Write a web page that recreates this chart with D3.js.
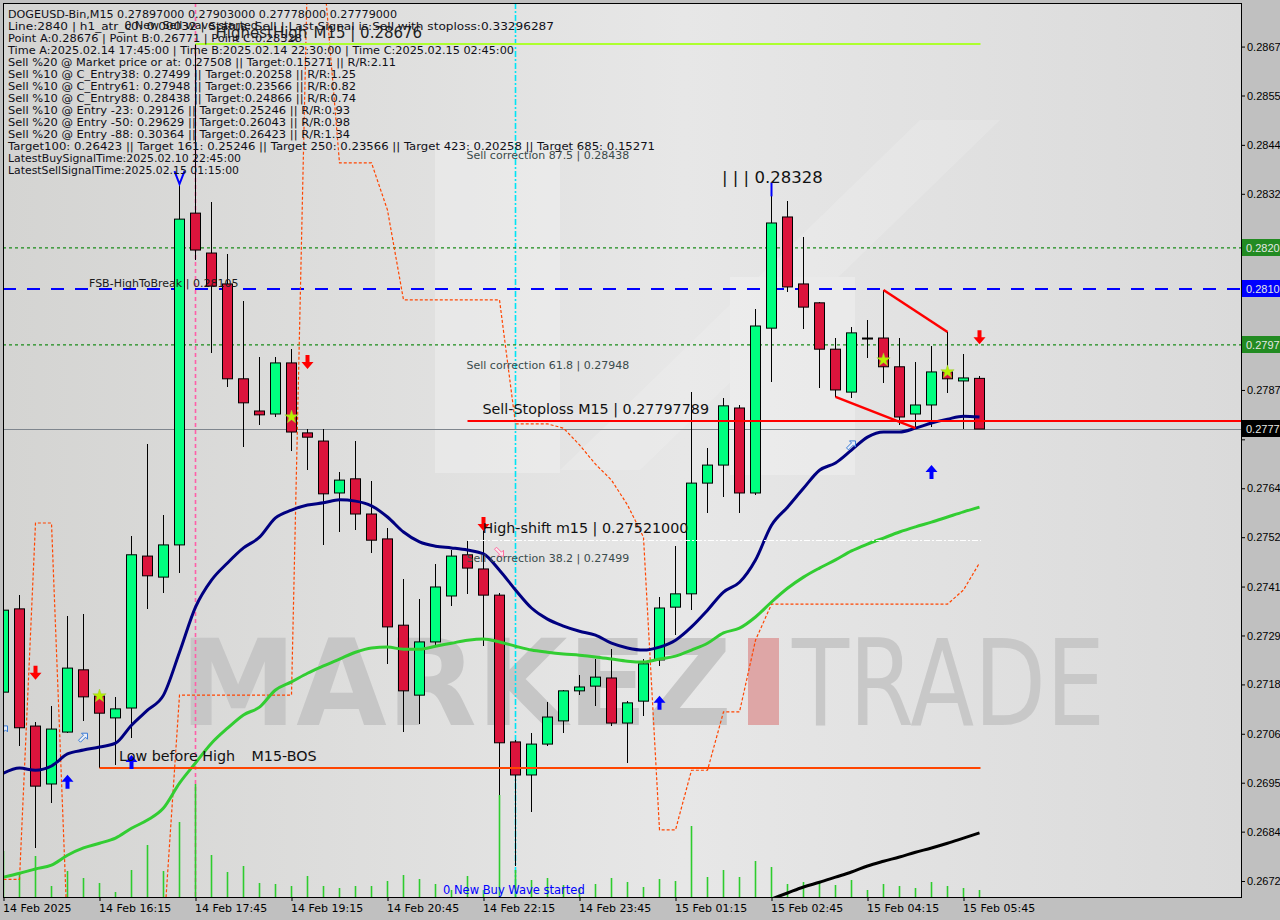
<!DOCTYPE html>
<html><head><meta charset="utf-8">
<script src="https://cdn.jsdelivr.net/npm/d3@7"></script>
<style>
html,body{margin:0;padding:0;background:#c0c0c0;overflow:hidden}
svg{display:block}
</style></head><body>
<svg id="c" width="1280" height="920"></svg>
<script>
// ---------------- DATA ----------------
const timeLabels = ["14 Feb 2025","14 Feb 16:15","14 Feb 17:45","14 Feb 19:15","14 Feb 20:45","14 Feb 22:15","14 Feb 23:45","15 Feb 01:15","15 Feb 02:45","15 Feb 04:15","15 Feb 05:45"];
const timeLabelBars = [0,6,12,18,24,30,36,42,48,54,60];

const opens  = [0.27166,0.27360,0.27087,0.26952,0.27073,0.27218,0.27157,0.27106,0.27129,0.27483,0.27434,0.27509,0.28282,0.28189,0.28117,0.27896,0.27821,0.27814,0.27933,0.27770,0.27751,0.27630,0.27663,0.27581,0.27523,0.27322,0.27159,0.27283,0.27390,0.27486,0.27453,0.27392,0.27050,0.26973,0.27045,0.27099,0.27169,0.27180,0.27199,0.27094,0.27145,0.27241,0.27364,0.27395,0.27653,0.27695,0.27828,0.27630,0.28014,0.28273,0.28117,0.28073,0.27965,0.27865,0.27991,0.27991,0.27924,0.27814,0.27835,0.27912,0.27891,0.27897];
const highs  = [0.27381,0.27392,0.27096,0.27134,0.27343,0.27348,0.27164,0.27155,0.27530,0.27744,0.27579,0.28352,0.28676,0.28308,0.28187,0.28077,0.27947,0.27947,0.27965,0.27779,0.27779,0.27679,0.27751,0.27658,0.27548,0.27430,0.27383,0.27465,0.27497,0.27518,0.27553,0.27397,0.27055,0.27071,0.27143,0.27171,0.27206,0.27243,0.27267,0.27145,0.27243,0.27388,0.27507,0.27865,0.27735,0.27851,0.27835,0.28059,0.28328,0.28310,0.28226,0.28075,0.27991,0.28017,0.28033,0.28103,0.27991,0.27935,0.27972,0.28005,0.27954,0.27903];
const lows   = [0.27148,0.27041,0.26803,0.26908,0.27071,0.27099,0.26989,0.26996,0.27059,0.27360,0.27397,0.27444,0.28173,0.27956,0.27877,0.27737,0.27788,0.27807,0.27728,0.27684,0.27509,0.27539,0.27544,0.27490,0.27232,0.27073,0.27092,0.27274,0.27367,0.27395,0.27274,0.26926,0.26760,0.26887,0.27041,0.27071,0.27159,0.27134,0.27087,0.27001,0.27110,0.27227,0.27299,0.27357,0.27583,0.27621,0.27583,0.27625,0.27889,0.28098,0.28012,0.27875,0.27854,0.27851,0.27945,0.27886,0.27788,0.27781,0.27784,0.27863,0.27779,0.27778];
const closes = [0.27357,0.27083,0.26947,0.27080,0.27222,0.27155,0.27117,0.27127,0.27486,0.27437,0.27509,0.28268,0.28196,0.28112,0.27896,0.27840,0.27812,0.27933,0.27772,0.27760,0.27628,0.27660,0.27581,0.27520,0.27318,0.27169,0.27283,0.27411,0.27483,0.27455,0.27392,0.27048,0.26973,0.27045,0.27108,0.27169,0.27178,0.27201,0.27094,0.27141,0.27232,0.27362,0.27395,0.27653,0.27695,0.27833,0.27630,0.28019,0.28259,0.28110,0.28063,0.27965,0.27870,0.28003,0.27990,0.27924,0.27807,0.27835,0.27912,0.27896,0.27898,0.27779];
const volumes = [460,250,410,110,260,190,140,50,270,520,260,750,1130,420,250,310,140,130,110,210,110,90,110,110,160,220,180,130,70,210,70,1020,270,170,190,120,90,130,190,150,100,180,160,710,200,270,200,360,300,130,150,140,120,170,70,130,110,90,150,110,90,70];

const maFast = [0.26977,0.26989,0.26984,0.26994,0.27022,0.27031,0.27038,0.27047,0.27089,0.27124,0.27159,0.27259,0.27364,0.27427,0.27467,0.27502,0.27527,0.27572,0.27590,0.27602,0.27607,0.27614,0.27611,0.27600,0.27574,0.27539,0.27516,0.27506,0.27502,0.27497,0.27488,0.27450,0.27404,0.27362,0.27336,0.27320,0.27308,0.27299,0.27280,0.27269,0.27264,0.27271,0.27287,0.27318,0.27357,0.27399,0.27422,0.27474,0.27555,0.27597,0.27641,0.27683,0.27700,0.27730,0.27760,0.27772,0.27772,0.27781,0.27793,0.27802,0.27809,0.27807];
const maSlow = [0.26735,0.26744,0.26754,0.26763,0.26786,0.26803,0.26814,0.26826,0.26849,0.26868,0.26896,0.26954,0.27001,0.27047,0.27082,0.27113,0.27131,0.27171,0.27190,0.27210,0.27227,0.27243,0.27259,0.27269,0.27271,0.27266,0.27266,0.27273,0.27280,0.27287,0.27290,0.27283,0.27273,0.27264,0.27259,0.27255,0.27252,0.27248,0.27243,0.27238,0.27236,0.27243,0.27250,0.27264,0.27280,0.27304,0.27315,0.27341,0.27376,0.27408,0.27434,0.27455,0.27474,0.27495,0.27511,0.27525,0.27539,0.27551,0.27562,0.27574,0.27586,0.27597];
const maLong = [null,null,null,null,null,null,null,null,null,null,null,null,null,null,null,null,null,null,null,null,null,null,null,null,null,null,null,null,null,null,null,null,null,null,null,null,null,null,null,null,null,null,null,null,null,null,0.26655,0.26670,0.26684,0.26698,0.26712,0.26723,0.26735,0.26747,0.26761,0.26772,0.26782,0.26793,0.26803,0.26814,0.26826,0.26838];
const envelope = [0.26730,0.26730,0.27560,0.27560,0.26600,0.26600,0.26600,0.26600,0.26600,0.26600,0.26600,0.27159,0.27159,0.27159,0.27159,0.27159,0.27159,0.27159,0.27159,0.28850,0.28850,0.28399,0.28399,0.28399,0.28289,0.28080,0.28080,0.28080,0.28080,0.28080,0.28080,0.28080,0.27791,0.27791,0.27791,0.27781,0.27742,0.27697,0.27660,0.27602,0.27527,0.26845,0.26845,0.26984,0.26984,0.27120,0.27120,0.27287,0.27371,0.27371,0.27371,0.27371,0.27371,0.27371,0.27371,0.27371,0.27371,0.27371,0.27371,0.27371,0.27404,0.27467];

const priceTicks = [0.28670,0.28556,0.28441,0.28327,0.28213,0.28098,0.27984,0.27870,0.27755,0.27641,0.27527,0.27412,0.27298,0.27184,0.27069,0.26955,0.26841,0.26726];

const highestHigh = 0.28676;
const pointC = 0.28328;
const fsbHigh = 0.28105;
const fibUpper = 0.28201;
const fibLower = 0.27975;
const stopLoss = 0.27797789;
const lastPrice = 0.27779;
const highShift = 0.27521;
const lowBeforeHigh = 0.26989;
const corrNames = ["87.5","61.8","38.2"];
const corrLevels = [0.28438,0.27948,0.27499];
const barA = 12, barB = 32, barC = 48;

const sellArrows = [{i:2,p:0.27211},{i:19,p:0.27935},{i:30,p:0.27558},{i:61,p:0.27993}];
const buyArrows  = [{i:4,p:0.26957},{i:8,p:0.27003},{i:41,p:0.27141},{i:58,p:0.27679}];
const hollowArrows = [{i:0,p:0.27078},{i:5,p:0.27061},{i:53,p:0.27742}];
const pinkArrows = [{i:31,p:0.27492}];
const stars = [{i:6,p:0.27157},{i:18,p:0.27807},{i:55,p:0.27940},{i:59,p:0.27912}];
const triLines = [[52,"low",57,"low"],[55,"high",59,"high"]];

const infoLines = [
 "DOGEUSD-Bin,M15  0.27897000 0.27903000 0.27778000 0.27779000",
 "Line:2840 | h1_atr_c0: 0.00032 | Status: Sell | Last Signal is:Sell with stoploss:0.33296287",
 "Point A:0.28676 | Point B:0.26771 | Point C:0.28328",
 "Time A:2025.02.14 17:45:00 | Time B:2025.02.14 22:30:00 | Time C:2025.02.15 02:45:00",
 "Sell %20 @ Market price or at: 0.27508 || Target:0.15271 || R/R:2.11",
 "Sell %10 @ C_Entry38: 0.27499 || Target:0.20258 || R/R:1.25",
 "Sell %10 @ C_Entry61: 0.27948 || Target:0.23566 || R/R:0.82",
 "Sell %10 @ C_Entry88: 0.28438 || Target:0.24866 || R/R:0.74",
 "Sell %10 @ Entry -23: 0.29126 || Target:0.25246 || R/R:0.93",
 "Sell %20 @ Entry -50: 0.29629 || Target:0.26043 || R/R:0.98",
 "Sell %20 @ Entry -88: 0.30364 || Target:0.26423 || R/R:1.34",
 "Target100: 0.26423 || Target 161: 0.25246 || Target 250: 0.23566 || Target 423: 0.20258 || Target 685: 0.15271",
 "LatestBuySignalTime:2025.02.10 22:45:00",
 "LatestSellSignalTime:2025.02.15 01:15:00"
];
// rendered widths of the info lines (layout only)
const infoWidths = [389,546,294,506,388,348,348,348,342,342,342,647,233,231];

// ---------------- CHART ----------------
const W = 1280, H = 920;
const L = 3, T = 3, R = 1241, B = 897;
const FONT = "DejaVu Sans";
const AXFONT = "Liberation Sans";
const svg = d3.select("#c");
const x = d3.scaleLinear().domain([0, opens.length - 1]).range([3.5, 979.5]);
const y = d3.scaleLinear().domain([0.28676, 0.26733]).range([44, 878]);
const yv = d3.scaleLinear().domain([0, 2000]).range([B, B - 200]);
const crisp = v => Math.round(v) + 0.5;

const defs = svg.append("defs");
const gr = defs.append("linearGradient").attr("id", "bg").attr("x1", 0).attr("x2", 1).attr("y1", 0).attr("y2", 0);
gr.append("stop").attr("offset", "0%").attr("stop-color", "#d4d4d2");
gr.append("stop").attr("offset", "55%").attr("stop-color", "#e7e7e7");
gr.append("stop").attr("offset", "100%").attr("stop-color", "#dadada");
defs.append("clipPath").attr("id", "plot").append("rect").attr("x", L).attr("y", T).attr("width", R - L).attr("height", B - T);

svg.append("rect").attr("width", W).attr("height", H).attr("fill", "#c0c0c0");
svg.append("rect").attr("x", L).attr("y", T).attr("width", R - L).attr("height", B - T).attr("fill", "url(#bg)");

const g = svg.append("g").attr("clip-path", "url(#plot)");

// watermark logo (decoration)
const logo = g.append("g").attr("fill", "#ffffff").attr("opacity", 0.25);
logo.append("rect").attr("x", 435).attr("y", 140).attr("width", 125).attr("height", 333);
logo.append("rect").attr("x", 730).attr("y", 277).attr("width", 125).attr("height", 198);
logo.append("path").attr("d", "M560,470 L640,470 L1000,120 L920,120 Z").attr("opacity", 0.6);
const wm = g.append("g").attr("font-family", FONT);
wm.append("text").attr("x", 180).attr("y", 725).attr("font-size", 119).attr("font-weight", "bold")
  .attr("fill", "#c6c6c6").attr("textLength", 552).attr("lengthAdjust", "spacingAndGlyphs").text("MARKEZ");
wm.append("rect").attr("x", 748).attr("y", 638).attr("width", 31).attr("height", 87).attr("fill", "#dea6a6");
wm.append("text").attr("x", 792).attr("y", 725).attr("font-size", 119)
  .attr("fill", "#c8c8c8").attr("textLength", 313).attr("lengthAdjust", "spacingAndGlyphs").text("TRADE");

const bars = d3.range(opens.length).map(i => ({i, o: opens[i], h: highs[i], l: lows[i], c: closes[i], v: volumes[i]}));

// vertical time lines A and B
g.append("line").attr("x1", x(barA)).attr("x2", x(barA)).attr("y1", T).attr("y2", B)
  .attr("stroke", "#ff5fa8").attr("stroke-width", 1.6).attr("stroke-dasharray", "4,3");
g.append("line").attr("x1", x(barB)).attr("x2", x(barB)).attr("y1", T).attr("y2", B)
  .attr("stroke", "#00e5f5").attr("stroke-width", 1.6).attr("stroke-dasharray", "6,2,2,2");

// horizontal dotted / dashed levels
[fibUpper, fibLower].forEach(v => g.append("line").attr("x1", L).attr("x2", R).attr("y1", y(v)).attr("y2", y(v))
  .attr("stroke", "#1a8c1a").attr("stroke-width", 1.4).attr("stroke-dasharray", "3,3"));
g.append("line").attr("x1", L).attr("x2", R).attr("y1", y(fsbHigh)).attr("y2", y(fsbHigh))
  .attr("stroke", "#0000ff").attr("stroke-width", 2).attr("stroke-dasharray", "13,11");
g.append("line").attr("x1", L).attr("x2", R).attr("y1", crisp(y(lastPrice))).attr("y2", crisp(y(lastPrice)))
  .attr("stroke", "#7f868e").attr("shape-rendering", "crispEdges");

// volumes
g.selectAll(".vol").data(bars).join("line").attr("class", "vol")
  .attr("x1", d => x(d.i)).attr("x2", d => x(d.i)).attr("y1", B).attr("y2", d => yv(d.v))
  .attr("stroke", "#2ecc2e").attr("stroke-width", 1.6);

// candles
g.selectAll(".wick").data(bars).join("line").attr("class", "wick")
  .attr("x1", d => x(d.i)).attr("x2", d => x(d.i)).attr("y1", d => y(d.h)).attr("y2", d => y(d.l))
  .attr("stroke", "#000").attr("shape-rendering", "crispEdges");
g.selectAll(".body").data(bars).join("rect").attr("class", "body")
  .attr("x", d => x(d.i) - 5).attr("width", 10)
  .attr("y", d => y(Math.max(d.o, d.c))).attr("height", d => Math.max(1, Math.abs(y(d.o) - y(d.c))))
  .attr("fill", d => d.c >= d.o ? "#00ff7f" : "#dc143c").attr("stroke", "#000");

// envelope step line
g.append("path").datum(envelope.map((v, i) => [i, v]))
  .attr("d", d3.line().x(d => x(d[0])).y(d => y(d[1])))
  .attr("fill", "none").attr("stroke", "#ff4500").attr("stroke-width", 1.2).attr("stroke-dasharray", "3,2");

// moving averages
const maLine = d3.line().defined(d => d[1] != null).x(d => x(d[0])).y(d => y(d[1])).curve(d3.curveMonotoneX);
g.append("path").datum(maSlow.map((v, i) => [i, v])).attr("d", maLine).attr("fill", "none").attr("stroke", "#32cd32").attr("stroke-width", 3);
g.append("path").datum(maFast.map((v, i) => [i, v])).attr("d", maLine).attr("fill", "none").attr("stroke", "#000080").attr("stroke-width", 3);
g.append("path").datum(maLong.map((v, i) => [i, v])).attr("d", maLine).attr("fill", "none").attr("stroke", "#000").attr("stroke-width", 3);

// level lines
const last = opens.length - 1;
g.append("line").attr("x1", x(barA)).attr("x2", x(last) + 1).attr("y1", y(highestHigh)).attr("y2", y(highestHigh))
  .attr("stroke", "#adff2f").attr("stroke-width", 2);
g.append("line").attr("x1", x(6)).attr("x2", x(last) + 1).attr("y1", y(lowBeforeHigh)).attr("y2", y(lowBeforeHigh))
  .attr("stroke", "#ff4500").attr("stroke-width", 2);
g.append("line").attr("x1", x(29)).attr("x2", R).attr("y1", y(stopLoss)).attr("y2", y(stopLoss))
  .attr("stroke", "#ff0000").attr("stroke-width", 2);
g.append("line").attr("x1", x(29)).attr("x2", x(last) + 1).attr("y1", crisp(y(highShift))).attr("y2", crisp(y(highShift)))
  .attr("stroke", "#ffffff").attr("stroke-dasharray", "6,2,2,2").attr("shape-rendering", "crispEdges");

// triangle lines
triLines.forEach(t => {
  const pa = t[1] === "low" ? lows[t[0]] : highs[t[0]];
  const pb = t[3] === "low" ? lows[t[2]] : highs[t[2]];
  g.append("line").attr("x1", x(t[0])).attr("y1", y(pa)).attr("x2", x(t[2])).attr("y2", y(pb))
    .attr("stroke", "#ff0000").attr("stroke-width", 2.5);
});

// markers
g.selectAll(".sa").data(sellArrows).join("path").attr("class", "sa")
  .attr("transform", d => `translate(${x(d.i)},${y(d.p)})`)
  .attr("d", "M-2,-7 H2 V0 H6 L0,7 L-6,0 H-2 Z").attr("fill", "#ff0000");
g.selectAll(".ba").data(buyArrows).join("path").attr("class", "ba")
  .attr("transform", d => `translate(${x(d.i)},${y(d.p)})`)
  .attr("d", "M-2,7 H2 V0 H6 L0,-7 L-6,0 H-2 Z").attr("fill", "#0000ff");
const hollowD = "M-5,3 L0,-2 L-2,-4 L4,-4 L4,2 L2,0 L-3,5 Z";
g.selectAll(".ha").data(hollowArrows).join("path").attr("class", "ha")
  .attr("transform", d => `translate(${x(d.i)},${y(d.p)})`)
  .attr("d", hollowD).attr("fill", "#e8eef8").attr("stroke", "#3a7bd5");
g.selectAll(".pa").data(pinkArrows).join("path").attr("class", "pa")
  .attr("transform", d => `translate(${x(d.i)},${y(d.p)}) rotate(90)`)
  .attr("d", hollowD).attr("fill", "#fbe8ee").attr("stroke", "#ff6fa0");
g.selectAll(".st").data(stars).join("path").attr("class", "st")
  .attr("transform", d => `translate(${x(d.i)},${y(d.p)})`)
  .attr("d", d3.symbol().type(d3.symbolStar).size(55)).attr("fill", "#b8f000").attr("stroke", "#9acd32").attr("stroke-width", 0.5);
g.append("path").attr("transform", `translate(${x(11)},${y(highs[11]) - 4})`)
  .attr("d", "M-5,-8 L0,5 L5,-8").attr("fill", "none").attr("stroke", "#0000ff").attr("stroke-width", 2);
g.append("line").attr("x1", x(barC)).attr("x2", x(barC)).attr("y1", y(pointC) - 11).attr("y2", y(pointC) + 3)
  .attr("stroke", "#0000ff").attr("stroke-width", 2);

// text annotations
const ann = g.append("g").attr("font-family", FONT);
corrLevels.forEach((v, k) => ann.append("text").attr("x", x(29) - 1).attr("y", y(v) + 13)
  .attr("font-size", 11).attr("fill", "#3b4b4b").text(`Sell correction ${corrNames[k]} | ${v.toFixed(5)}`));
ann.append("text").attr("x", x(5) + 5.5).attr("y", y(fsbHigh) - 2).attr("font-size", 11).attr("fill", "#1a1a1a")
  .text(`FSB-HighToBreak | ${fsbHigh.toFixed(5)}`);
ann.append("text").attr("x", x(30) - 1).attr("y", y(stopLoss) - 7).attr("font-size", 14.3).attr("fill", "#111")
  .text(`Sell-Stoploss M15 | ${stopLoss.toFixed(8)}`);
ann.append("text").attr("x", x(30) - 1).attr("y", y(highShift) - 7).attr("font-size", 14.3).attr("fill", "#111")
  .text(`High-shift m15 | ${highShift.toFixed(8)}`);
ann.append("text").attr("x", x(7) + 3.5).attr("y", y(lowBeforeHigh) - 7).attr("font-size", 14.3).attr("fill", "#111").text("Low before High");
ann.append("text").attr("x", x(15) + 8).attr("y", y(lowBeforeHigh) - 7).attr("font-size", 14.3).attr("fill", "#111").text("M15-BOS");
ann.append("text").attr("x", x(45) - 1.5).attr("y", y(pointC) - 10).attr("font-size", 16.5).attr("fill", "#111")
  .text(`| | | ${pointC.toFixed(5)}`);
ann.append("text").attr("x", x(13) + 4).attr("y", y(highestHigh) - 6).attr("font-size", 15).attr("fill", "#222").text("HighestHigh");
ann.append("text").attr("x", x(19) + 6).attr("y", y(highestHigh) - 6).attr("font-size", 15).attr("fill", "#222")
  .text(`M15 | ${highestHigh.toFixed(5)}`);
ann.append("text").attr("x", x(7) + 9).attr("y", 29).attr("font-size", 11).attr("fill", "#111").text("0 New Sell wave started");
ann.append("text").attr("x", x(27) + 7.5).attr("y", B - 3).attr("font-size", 11.5).attr("fill", "#0000ff").text("0 New Buy Wave started");

// info block
const info = g.append("g").attr("font-family", FONT).attr("font-size", 11).attr("fill", "#101018");
info.selectAll("text").data(infoLines).join("text").attr("x", 8).attr("y", (d, k) => 17.5 + 12 * k)
  .attr("textLength", (d, k) => infoWidths[k]).attr("lengthAdjust", "spacingAndGlyphs").text(d => d);

// frame
svg.append("rect").attr("x", L + 0.5).attr("y", T + 0.5).attr("width", R - L - 0.5).attr("height", B - T - 0.5)
  .attr("fill", "none").attr("stroke", "#000").attr("shape-rendering", "crispEdges");

// price tags on the axis
const tags = [{v: fibUpper, bg: "#228b22"}, {v: fsbHigh, bg: "#0000ff"}, {v: fibLower, bg: "#228b22"}, {v: lastPrice, bg: "#000000"}];
const fmt4 = v => (Math.floor(v * 1e4 + 1e-9) / 1e4).toFixed(4);

// axes
const ya = svg.append("g").attr("transform", `translate(${R},0)`)
  .call(d3.axisRight(y).tickValues(priceTicks).tickFormat(fmt4).tickSize(4).tickPadding(2));
ya.select(".domain").remove();
ya.attr("font-family", AXFONT).attr("font-size", 11);
ya.selectAll("text").attr("fill", "#000")
  .style("display", d => tags.some(t => Math.abs(y(t.v) - y(d)) < 11) ? "none" : null);

const xa = svg.append("g").attr("transform", `translate(0,${B})`)
  .call(d3.axisBottom(x).tickValues(timeLabelBars).tickFormat((d, k) => timeLabels[k]).tickSize(4).tickPadding(3));
xa.select(".domain").remove();
xa.attr("font-family", FONT).attr("font-size", 11);
xa.selectAll("text").attr("text-anchor", "start").attr("dx", -1).attr("fill", "#000");

const tg = svg.append("g").attr("font-family", AXFONT).attr("font-size", 11);
tags.forEach(t => {
  const yy = Math.round(y(t.v));
  tg.append("rect").attr("x", R + 1).attr("y", yy - 9).attr("width", W - R - 1).attr("height", 17).attr("fill", t.bg);
  tg.append("text").attr("x", R + 5).attr("y", yy).attr("dy", "0.35em").attr("fill", "#e4e8e4").text(fmt4(t.v));
});
</script>
</body></html>
